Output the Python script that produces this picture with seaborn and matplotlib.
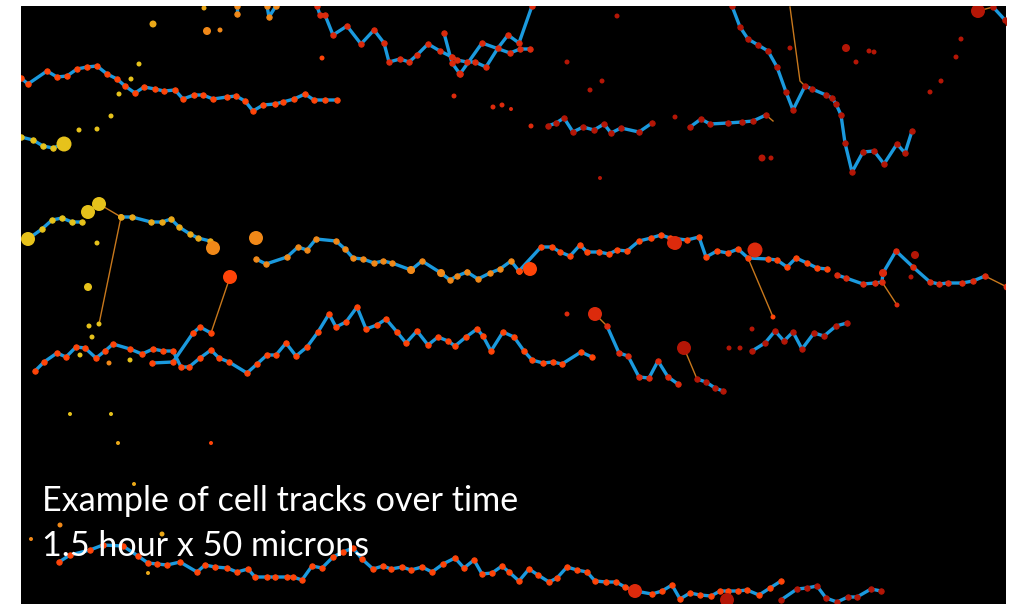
import matplotlib
matplotlib.use("Agg")
import matplotlib.pyplot as plt
import seaborn as sns
import numpy as np
import pandas as pd

# ---------------- data (pixel-space coordinates of the original frame) ----------------
TRACK_A = [(21,78),(28,84),(47,71),(57,77),(67,76),(77,69),(87,67),(97,66),(107,74),(117,79),(125,86),
           (135,93),(144,87),(155,89),(164,91),(175,90),(183,99),(194,95),(203,95),(213,99),(227,97),
           (236,96),(245,101),(253,111),(263,105),(275,104),(283,102),(294,99),(305,94),(314,100),(325,100),(337,100)]
TRACK_B = [(21,137),(33,140),(43,146),(53,148),(63,144)]
TRACK_C1 = [(28,239),(42,229),(52,220),(62,218),(72,222),(82,222)]
TRACK_C2 = [(121,217),(132,217),(151,222),(162,222),(171,219),(179,227),(190,234),(198,238),(210,241)]
TRACK_D = [(35,371),(44,362),(57,353),(66,357),(76,347),(85,348),(96,358),(105,351),(113,344),(130,349),
           (142,354),(153,349),(163,351),(173,351),(181,367),(189,367),(200,358),(211,350),(219,358),(229,362),
           (247,373),(257,364),(267,355),(276,355),(286,343),(296,356),(307,347),(318,332),(329,314),(336,327),
           (346,322),(357,307),(366,329),(377,325),(386,319),(397,332),(406,343),(417,331),(428,345),(438,337),
           (448,341),(455,346),(466,337),(477,329),(483,336),(491,351),(503,332),(514,337),(524,351),(532,360),
           (543,363),(553,362),(562,364),(581,352),(592,357)]
TRACK_D2 = [(152,363),(173,362),(193,333),(200,327),(211,333)]
TRACK_E1 = [(256,259),(266,264),(287,257),(298,247),(307,250),(316,239),(336,241),(345,249),(353,258),
            (363,259),(374,263),(383,261),(392,263),(411,270),(422,261),(441,273),(450,280),(457,276),(467,272),
            (478,279),(490,273),(500,269),(511,261),(519,271)]
TRACK_E2 = [(519,271),(541,247),(552,247),(560,252),(570,256),(580,245),(587,252),(599,252),(609,254),(617,250),
            (627,251),(639,241),(651,238),(661,235),(670,238),(687,240),(699,237),(706,257),(717,251),(728,253),
            (738,249),(748,258),(768,259),(777,260),(787,267),(796,258),(807,263),(817,268),(827,269)]
TRACK_E3 = [(837,275),(846,278),(863,284),(875,283),(882,282),(883,273),(896,251),(913,267),(930,282),
            (939,284),(948,283),(962,283),(973,281),(985,276)]
TRACK_F = [(752,351),(765,343),(775,331),(784,341),(793,332),(802,349),(814,333),(824,336),(836,326),(847,323)]
TRACK_G = [(607,326),(619,353),(628,356),(639,377),(649,378),(658,361),(668,377),(678,384)]
TRACK_G2 = [(697,379),(706,382),(715,388),(723,391)]
TRACK_I = [(317,6),(320,15),(325,15),(333,35),(347,26),(361,44),(374,30),(384,43),(389,62),(400,59),(409,62),
           (417,55),(428,44),(440,51),(452,57),(457,60),(467,62),(475,62),(486,67),(498,48),(508,35),(519,43),(532,6)]
TRACK_I2 = [(444,33),(452,63),(460,74),(482,43),(510,53),(520,49),(530,49)]
TRACK_I3 = [(267,6),(269,17),(276,6)]
TRACK_I4 = [(237,6),(237,14)]
TRACK_J = [(548,126),(556,123),(564,118),(573,132),(583,127),(594,130),(604,124),(611,133),(621,128),(639,132),(652,123)]
TRACK_K = [(732,6),(740,27),(748,39),(758,45),(768,51),(777,67),(786,92),(793,110),(805,86),(812,89),(826,95),
           (832,98),(836,104),(841,115),(845,143),(852,172),(863,152),(874,151),(884,164),(897,144),(905,153),(912,131)]
TRACK_L = [(690,127),(701,119),(710,124),(728,123),(742,122),(753,121),(766,115)]
TRACK_M = [(993,7),(1005,20),(1008,23)]
TRACK_BOT1 = [(59,562),(70,555),(90,550),(103,545),(123,546),(138,556),(148,563),(157,564),(167,565),(180,562),
              (197,572),(205,565),(215,567),(227,568),(237,572),(248,569),(255,577),(267,577),(275,577),(287,577),
              (293,577),(302,580),(312,566),(322,568),(333,557),(343,552),(353,548),(362,559),(373,569),(383,566),
              (391,569),(402,567),(411,570),(422,567),(432,572),(443,564),(455,558),(464,568),(474,560),(482,574),
              (492,573),(502,566),(509,572),(519,581),(529,569),(538,575),(549,582),(557,578),(567,567),(577,570),
              (587,572),(595,581),(606,582),(616,582),(625,587),(635,591),(652,594),(662,591),(672,585),(680,599),
              (690,593),(700,595),(711,596),(720,591),(728,591),(738,591),(747,590),(759,595),(770,588),(781,581)]
TRACK_BOT2 = [(781,600),(797,589),(807,588),(817,586),(826,598),(837,602),(848,597),(857,597),(871,589),(881,591)]

CONNECTORS = [[(99,204),(121,217),(99,324)], [(230,277),(211,333)], [(790,7),(800,81),(805,86)],
              [(748,258),(773,317)], [(882,282),(897,305)], [(985,276),(1007,287)], [(595,314),(607,326)],
              [(684,348),(697,379)], [(978,11),(993,7)], [(766,115),(773,121)]]

DOT_X = [153,204,207,220,139,131,119,111,79,97,64,28,88,99,97,88,89,92,99,256,213,230,70,111,118,211,134,60,31,162,
         148,322,109,130,80,454,493,502,511,531,567,602,590,617,600,675,460,978,846,856,869,874,790,961,956,941,930,
         762,771,530,675,755,673,915,911,883,595,684,567,729,740,752,773,897,1007,411,441,467,727,635,121,452]
DOT_Y = [24,8,31,30,64,79,94,116,130,129,144,239,212,204,243,287,326,337,324,238,248,277,414,414,443,443,484,525,
         539,534,573,58,363,360,355,96,107,105,109,126,62,81,90,16,178,117,74,11,48,62,51,52,48,39,57,81,92,158,158,
         269,243,250,243,255,277,273,314,348,314,348,348,329,317,305,287,270,273,272,600,591,217,57]
DOT_D = [7,5,8,5,5,5,5,5,5,5,15,14,14,14,5,8,5,5,5,14,14,14,4,4,4,4,4,5,4,5,4,5,5,5,5,5,5,5,4,5,5,5,5,5,4,5,7,
         14,8,5,5,5,5,5,5,5,5,7,5,14,14,15,12,8,5,8,14,14,5,5,5,5,5,5,7,8,8,5,14,14,6,5]
DOT_C = ["gold","gold","orange","orange","yellow","yellow","yellow","yellow","yellow","yellow","yellow","yellow",
         "yellow","yellow","yellow","yellow","yellow","yellow","yellow","orange","orange","redorange","yellow","yellow",
         "gold","redorange","gold","orange","orange","gold","gold","redorange","orange","yellow","yellow",
         "red","red","red","red","red","darkred","darkred","darkred","darkred","darkred","darkred","red",
         "darkred","darkred","darkred","darkred","darkred","darkred","darkred","darkred","darkred","darkred",
         "darkred","darkred","redorange","red","red","red","darkred","darkred","red","red","darkred","red",
         "darkred","darkred","darkred","redorange","red","red","orange","orange","orange","darkred","red","gold","red"]

TEXT_LINES = ["Example of cell tracks over time", "1.5 hour x 50 microns"]

# ---------------- style ----------------
PAL = {"yellow": "#e6c21b", "gold": "#eaa818", "orange": "#f08818", "redorange": "#ff4408",
       "red": "#dc2a0c", "darkred": "#b41606"}
BLUE = "#1b9ade"
CONN = "#c8781c"

W, H, DPI = 1015, 604, 100
fig = plt.figure(figsize=(W / DPI, H / DPI), dpi=DPI, facecolor="white")
ax = fig.add_axes([21 / W, 0, (1006 - 21) / W, (604 - 6) / H])
ax.set_facecolor("black")
ax.set_axis_off()
ax.add_patch(plt.Rectangle((21, 6), 985, 598, color="black", zorder=0))

def px2pt(d):
    return d * 72 / DPI

for seg in CONNECTORS:
    xs, ys = zip(*seg)
    sns.lineplot(x=list(xs), y=list(ys), sort=False, estimator=None, color=CONN,
                 linewidth=1.0, ax=ax, zorder=2)

tracks = [(TRACK_A, "redorange"), (TRACK_B, "yellow"), (TRACK_C1, "yellow"), (TRACK_C2, "gold"),
          (TRACK_D, "redorange"), (TRACK_D2, "redorange"), (TRACK_E1, "orange"), (TRACK_E2, "redorange"),
          (TRACK_E3, "red"), (TRACK_F, "darkred"), (TRACK_G, "red"), (TRACK_G2, "darkred"),
          (TRACK_I, "red"), (TRACK_I2, "red"), (TRACK_I3, "orange"), (TRACK_I4, "orange"),
          (TRACK_J, "darkred"), (TRACK_K, "darkred"), (TRACK_L, "darkred"), (TRACK_M, "darkred"),
          (TRACK_BOT1, "redorange"), (TRACK_BOT2, "darkred")]

for tr, col in tracks:
    xs, ys = zip(*tr)
    sns.lineplot(x=list(xs), y=list(ys), sort=False, estimator=None, color=BLUE,
                 linewidth=2.4, ax=ax, zorder=3)
for tr, col in tracks:
    xs, ys = zip(*tr)
    sns.scatterplot(x=list(xs), y=list(ys), color=PAL[col], edgecolor=PAL[col], s=px2pt(5.5) ** 2,
                    linewidth=0.6, ax=ax, zorder=4, legend=False)

df = pd.DataFrame({"x": DOT_X, "y": DOT_Y, "d": DOT_D, "c": DOT_C})
for cname, g in df.groupby("c"):
    sns.scatterplot(data=g, x="x", y="y", color=PAL[cname], edgecolor="none",
                    s=(g["d"] * 72 / DPI) ** 2, ax=ax, zorder=5, legend=False)

ax.set_xlim(21, 1006)
ax.set_ylim(604, 6)

for i, line in enumerate(TEXT_LINES):
    ax.text(42, 511 + 45 * i, line, color="white", fontsize=24.6, family=["Lato", "DejaVu Sans"],
            va="baseline", ha="left", zorder=10)

fig.savefig("out.png", dpi=DPI, facecolor="white")
